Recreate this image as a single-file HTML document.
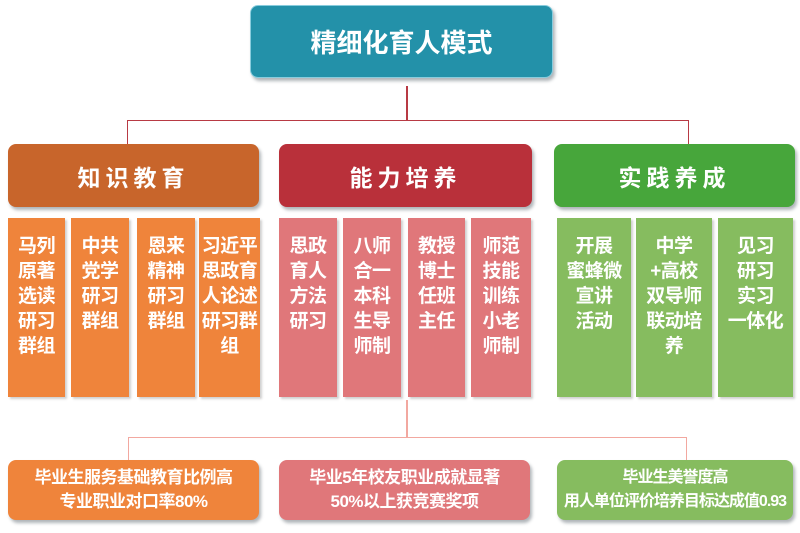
<!DOCTYPE html>
<html><head><meta charset="utf-8"><style>
body{margin:0;width:800px;height:533px;background:#fff;position:relative;overflow:hidden;font-family:"Liberation Sans","Noto Sans CJK SC",sans-serif;font-weight:bold;color:#fff}
.b{position:absolute;display:flex;align-items:center;justify-content:center;text-align:center;box-sizing:border-box;white-space:nowrap}
.r{border-radius:8px;box-shadow:2px 3px 3px rgba(80,90,100,.45)}
.s{font-size:19px;line-height:25px;box-shadow:2px 2px 2px rgba(120,120,120,.35);align-items:flex-start;padding-top:16px;letter-spacing:-0.5px}
.ln{position:absolute}
.t{font-size:17px;line-height:24px;letter-spacing:-0.5px}
</style></head><body>
<div class="b r" style="left:250px;top:5px;width:303px;height:73px;background:#2391a9;font-size:26px;border:1px solid #8cd">精细化育人模式</div>
<div class="ln" style="left:406px;top:86px;width:2px;height:35px;background:#b83a44"></div>
<div class="ln" style="left:127px;top:120px;width:560px;border:1px solid #b83a44;border-bottom:none;height:24px"></div>

<div class="b r" style="left:8px;top:144px;width:251px;height:63px;background:#c8652b;font-size:23px;letter-spacing:5px">知识教育</div>
<div class="b r" style="left:279px;top:144px;width:253px;height:63px;background:#b9303a;font-size:23px;letter-spacing:5px">能力培养</div>
<div class="b r" style="left:554px;top:144px;width:241px;height:63px;background:#47a63b;font-size:23px;letter-spacing:5px">实践养成</div>

<div class="b s" style="left:8px;top:218px;width:57px;height:179px;background:#ef843b">马列<br>原著<br>选读<br>研习<br>群组</div>
<div class="b s" style="left:71px;top:218px;width:58px;height:179px;background:#ef843b">中共<br>党学<br>研习<br>群组</div>
<div class="b s" style="left:137px;top:218px;width:58px;height:179px;background:#ef843b">恩来<br>精神<br>研习<br>群组</div>
<div class="b s" style="left:199px;top:218px;width:61px;height:179px;background:#ef843b">习近平<br>思政育<br>人论述<br>研习群<br>组</div>

<div class="b s" style="left:279px;top:218px;width:58px;height:179px;background:#e0777a">思政<br>育人<br>方法<br>研习</div>
<div class="b s" style="left:343px;top:218px;width:58px;height:179px;background:#e0777a">八师<br>合一<br>本科<br>生导<br>师制</div>
<div class="b s" style="left:408px;top:218px;width:57px;height:179px;background:#e0777a">教授<br>博士<br>任班<br>主任</div>
<div class="b s" style="left:471px;top:218px;width:60px;height:179px;background:#e0777a">师范<br>技能<br>训练<br>小老<br>师制</div>

<div class="b s" style="left:557px;top:218px;width:74px;height:179px;background:#86bc5f">开展<br>蜜蜂微<br>宣讲<br>活动</div>
<div class="b s" style="left:636px;top:218px;width:76px;height:179px;background:#86bc5f">中学<br>+高校<br>双导师<br>联动培<br>养</div>
<div class="b s" style="left:718px;top:218px;width:75px;height:179px;background:#86bc5f">见习<br>研习<br>实习<br>一体化</div>

<div class="ln" style="left:406px;top:400px;width:2px;height:38px;background:#f2a8a0"></div>
<div class="ln" style="left:128px;top:437px;width:557px;border:1px solid #f2a8a0;border-bottom:none;height:23px"></div>

<div class="b r t" style="left:8px;top:460px;width:251px;height:60px;background:#ef843b">毕业生服务基础教育比例高<br>专业职业对口率80%</div>
<div class="b r t" style="left:279px;top:460px;width:251px;height:60px;background:#e0777a">毕业5年校友职业成就显著<br>50%以上获竞赛奖项</div>
<div class="b r t" style="left:557px;top:460px;width:236px;height:60px;background:#86bc5f;font-size:16px;letter-spacing:-1px">毕业生美誉度高<br>用人单位评价培养目标达成值0.93</div>
</body></html>
